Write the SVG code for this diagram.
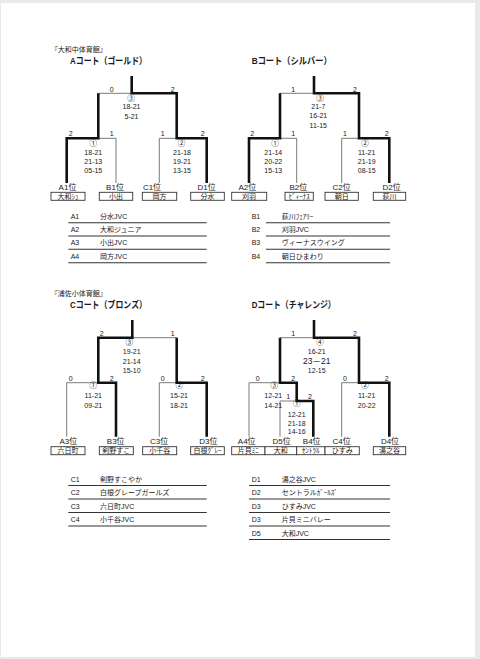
<svg xmlns="http://www.w3.org/2000/svg" width="480" height="659" viewBox="0 0 480 659">
<style>
.t{font-family:"Liberation Sans","Noto Sans CJK JP",sans-serif;fill:#1a1a1a}
.sc{font-size:7px;text-anchor:middle}
.cn{font-size:7.5px;text-anchor:middle}
.lab{font-size:8px;text-anchor:middle}
.bt{font-size:7px;text-anchor:middle}
.ttl{font-size:9.5px;font-weight:bold}
.hall{font-size:7px}
.tb{font-size:7px}
.thick{stroke:#111;stroke-width:2.6;fill:none;stroke-linejoin:miter}
.thin{stroke:#7a7a7a;stroke-width:1;fill:none}
.box{fill:#fff;stroke:#333;stroke-width:0.9}
.rl{stroke:#333;stroke-width:1.1}
</style>
<rect width="480" height="659" fill="#e9e9e9"/>
<rect x="1" y="3" width="474" height="654" fill="#fff"/>

<!-- headings -->
<g id="headings">
<text class="t hall" x="50.7" y="51.5">『大和中体育館』</text>
<text class="t ttl" x="70" y="63.5" textLength="77" lengthAdjust="spacingAndGlyphs">Aコート（ゴールド）</text>
<text class="t ttl" x="251.7" y="63.5" textLength="80" lengthAdjust="spacingAndGlyphs">Bコート（シルバー）</text>
<text class="t hall" x="50.7" y="296">『浦佐小体育館』</text>
<text class="t ttl" x="70" y="308" textLength="77" lengthAdjust="spacingAndGlyphs">Cコート（ブロンズ）</text>
<text class="t ttl" x="251.7" y="308" textLength="84" lengthAdjust="spacingAndGlyphs">Dコート（チャレンジ）</text>
</g>

<!-- connectors -->
<g id="connectors">
<!-- A court -->
<path class="thin" d="M116 183V138.3H98.3M159.3 183V138.3H176.7M98.3 93.3H131.7"/>
<path class="thick" d="M66.7 183V138.3H98.3V93.3"/>
<path class="thick" d="M206.7 183V138.3H176.7V93.3H131.7V76"/>
<!-- B court -->
<path class="thin" d="M296.7 183V138.3H280M341.7 183V138.3H359M280 93.3H314"/>
<path class="thick" d="M249 183V138.3H280V93.3"/>
<path class="thick" d="M389.3 183V138.3H359V93.3H314V76"/>
<!-- C court -->
<path class="thin" d="M66.7 436.7V382.7H98.3M159.3 436.7V382.7H176.7M132.3 337.7H176.7"/>
<path class="thick" d="M116 436.7V382.7H98.3V337.7H132.3V320"/>
<path class="thick" d="M206.7 436.7V382.7H176.7V337.7"/>
<!-- D court -->
<path class="thin" d="M280 337.7H314M249 436.7V382.7H280M280 436.7V401H296.7M341.7 436.7V382.7H359"/>
<path class="thick" d="M313.3 436.7V401H296.7V382.7H280V337.7"/>
<path class="thick" d="M389.3 436.7V382.7H359V337.7H314V320"/>
</g>

<!-- A court matches -->
<g id="A-final">
<text class="t sc" x="111.7" y="92">0</text><text class="t sc" x="172.7" y="92">2</text>
<text class="t cn" x="131" y="101">③</text>
<text class="t sc" x="131.5" y="109.2">18-21</text><text class="t sc" x="131.5" y="118.5">5-21</text>
</g>
<g id="A-m1">
<text class="t sc" x="70.7" y="136">2</text><text class="t sc" x="111.7" y="136">1</text>
<text class="t cn" x="93.3" y="146">①</text>
<text class="t sc" x="93.3" y="154.8">18-21</text><text class="t sc" x="93.3" y="163.5">21-13</text><text class="t sc" x="93.3" y="172.5">05-15</text>
</g>
<g id="A-m2">
<text class="t sc" x="162.7" y="136">1</text><text class="t sc" x="202.7" y="136">2</text>
<text class="t cn" x="181.5" y="146">②</text>
<text class="t sc" x="182" y="154.8">21-18</text><text class="t sc" x="182" y="163.5">19-21</text><text class="t sc" x="182" y="172.5">13-15</text>
</g>

<!-- B court matches -->
<g id="B-final">
<text class="t sc" x="293.3" y="92">1</text><text class="t sc" x="355" y="92">2</text>
<text class="t cn" x="320" y="101">③</text>
<text class="t sc" x="318.3" y="109.2">21-7</text><text class="t sc" x="318.3" y="118.2">16-21</text><text class="t sc" x="318.3" y="127.5">11-15</text>
</g>
<g id="B-m1">
<text class="t sc" x="252.3" y="136">2</text><text class="t sc" x="293.3" y="136">1</text>
<text class="t cn" x="275" y="146">①</text>
<text class="t sc" x="273.3" y="154.8">21-14</text><text class="t sc" x="273.3" y="163.5">20-22</text><text class="t sc" x="273.3" y="172.5">15-13</text>
</g>
<g id="B-m2">
<text class="t sc" x="345" y="136">1</text><text class="t sc" x="386.7" y="136">2</text>
<text class="t cn" x="365" y="146">②</text>
<text class="t sc" x="366.7" y="154.8">11-21</text><text class="t sc" x="366.7" y="163.5">21-19</text><text class="t sc" x="366.7" y="172.5">08-15</text>
</g>

<!-- C court matches -->
<g id="C-final">
<text class="t sc" x="101.7" y="335.5">2</text><text class="t sc" x="172.7" y="335.5">1</text>
<text class="t cn" x="129.3" y="345">③</text>
<text class="t sc" x="131.7" y="354.2">19-21</text><text class="t sc" x="131.7" y="363.5">21-14</text><text class="t sc" x="131.7" y="372.5">15-10</text>
</g>
<g id="C-m1">
<text class="t sc" x="70.7" y="381">0</text><text class="t sc" x="111.7" y="381">2</text>
<text class="t cn" x="93.3" y="388">①</text>
<text class="t sc" x="93.3" y="397.5">11-21</text><text class="t sc" x="93.3" y="407.5">09-21</text>
</g>
<g id="C-m2">
<text class="t sc" x="162.7" y="381">0</text><text class="t sc" x="202.7" y="381">2</text>
<text class="t cn" x="179.3" y="388">②</text>
<text class="t sc" x="179" y="397.5">15-21</text><text class="t sc" x="179" y="407.5">18-21</text>
</g>

<!-- D court matches -->
<g id="D-final">
<text class="t sc" x="293.3" y="335.5">1</text><text class="t sc" x="355" y="335.5">2</text>
<text class="t cn" x="320" y="345">④</text>
<text class="t sc" x="316.7" y="354.2">16-21</text>
<text class="t" x="316.7" y="364" text-anchor="middle" font-size="8.5">23－21</text>
<text class="t sc" x="316.7" y="372.5">12-15</text>
</g>
<g id="D-m3">
<text class="t sc" x="257.7" y="381">0</text><text class="t sc" x="293.3" y="381">2</text>
<text class="t cn" x="274.3" y="388">③</text>
<text class="t sc" x="273.3" y="397.5">12-21</text><text class="t sc" x="273.3" y="407.5">14-21</text>
</g>
<g id="D-m1">
<text class="t sc" x="288.3" y="399.3">1</text><text class="t sc" x="310" y="399.3">2</text>
<text class="t cn" x="296.7" y="405.5">①</text>
<text class="t sc" x="296.7" y="416.8">12-21</text><text class="t sc" x="296.7" y="425.8">21-18</text><text class="t sc" x="296.7" y="434.4">14-16</text>
</g>
<g id="D-m2">
<text class="t sc" x="345" y="381">0</text><text class="t sc" x="386.7" y="381">2</text>
<text class="t cn" x="365" y="388">②</text>
<text class="t sc" x="366.7" y="397.5">11-21</text><text class="t sc" x="366.7" y="407.5">20-22</text>
</g>

<!-- team nodes, top row -->
<g id="team-A1"><text class="t lab" x="67.5" y="190">A1位</text><rect class="box" x="51" y="192.3" width="34" height="8"/><text class="t bt" x="68" y="199">大和ｼｭ</text></g>
<g id="team-B1"><text class="t lab" x="115" y="190">B1位</text><rect class="box" x="99.3" y="192.3" width="33.4" height="8"/><text class="t bt" x="116" y="199">小出</text></g>
<g id="team-C1"><text class="t lab" x="152" y="190">C1位</text><rect class="box" x="142.3" y="192.3" width="34.4" height="8"/><text class="t bt" x="159.5" y="199">岡方</text></g>
<g id="team-D1"><text class="t lab" x="206.7" y="190">D1位</text><rect class="box" x="190.7" y="192.3" width="33.6" height="8"/><text class="t bt" x="207.5" y="199">分水</text></g>
<g id="team-A2"><text class="t lab" x="247.3" y="190">A2位</text><rect class="box" x="231.7" y="192.3" width="35" height="8"/><text class="t bt" x="249" y="199">刈羽</text></g>
<g id="team-B2"><text class="t lab" x="298.3" y="190">B2位</text><rect class="box" x="285" y="192.3" width="28.3" height="8"/><text class="t bt" x="299.2" y="199">ﾋﾞｨｰﾅｽ</text></g>
<g id="team-C2"><text class="t lab" x="341.7" y="190">C2位</text><rect class="box" x="325" y="192.3" width="33.3" height="8"/><text class="t bt" x="341.7" y="199">朝日</text></g>
<g id="team-D2"><text class="t lab" x="391.7" y="190">D2位</text><rect class="box" x="373.3" y="192.3" width="32.4" height="8"/><text class="t bt" x="389.5" y="199">荻川</text></g>

<!-- team nodes, bottom row -->
<g id="team-A3"><text class="t lab" x="68.3" y="444">A3位</text><rect class="box" x="51" y="446.7" width="34" height="8"/><text class="t bt" x="68" y="453.4">六日町</text></g>
<g id="team-B3"><text class="t lab" x="115.7" y="444">B3位</text><rect class="box" x="99.3" y="446.7" width="34" height="8"/><text class="t bt" x="116.3" y="453.4">剣野すこ</text></g>
<g id="team-C3"><text class="t lab" x="159.2" y="444">C3位</text><rect class="box" x="142.7" y="446.7" width="34" height="8"/><text class="t bt" x="159.7" y="453.4">小千谷</text></g>
<g id="team-D3"><text class="t lab" x="208.3" y="444">D3位</text><rect class="box" x="190.7" y="446.7" width="33.6" height="8"/><text class="t bt" x="207.5" y="453.4">白根ｸﾞﾚｰ</text></g>
<g id="team-A4"><text class="t lab" x="246.7" y="444">A4位</text><rect class="box" x="231.7" y="446.7" width="33.3" height="8"/><text class="t bt" x="248.3" y="453.4">片貝ﾐﾆ</text></g>
<g id="team-D5"><text class="t lab" x="281.7" y="444">D5位</text><rect class="box" x="265" y="446.7" width="31.7" height="8"/><text class="t bt" x="280.8" y="453.4">大和</text></g>
<g id="team-B4"><text class="t lab" x="311.7" y="444">B4位</text><rect class="box" x="296.7" y="446.7" width="28.3" height="8"/><text class="t bt" x="310.8" y="453.4">ｾﾝﾄﾗﾙ</text></g>
<g id="team-C4"><text class="t lab" x="341.7" y="444">C4位</text><rect class="box" x="325" y="446.7" width="34.3" height="8"/><text class="t bt" x="342.2" y="453.4">ひすみ</text></g>
<g id="team-D4"><text class="t lab" x="390" y="444">D4位</text><rect class="box" x="373.3" y="446.7" width="32.4" height="8"/><text class="t bt" x="389.5" y="453.4">湯之谷</text></g>

<!-- tables -->
<g id="table-A">
<text class="t tb" x="70.7" y="218.5">A1</text><text class="t tb" x="100" y="218.5">分水JVC</text>
<text class="t tb" x="70.7" y="231.8">A2</text><text class="t tb" x="100" y="231.8">大和ジュニア</text>
<text class="t tb" x="70.7" y="245.2">A3</text><text class="t tb" x="100" y="245.2">小出JVC</text>
<text class="t tb" x="70.7" y="258.5">A4</text><text class="t tb" x="100" y="258.5">岡方JVC</text>
<path class="rl" d="M68.3 222.7H206.7M68.3 236H206.7M68.3 249.3H206.7M68.3 262.7H206.7"/>
</g>
<g id="table-B">
<text class="t tb" x="251.7" y="218.5">B1</text><text class="t tb" x="281.7" y="218.5">荻川ﾌｪｱﾘｰ</text>
<text class="t tb" x="251.7" y="231.8">B2</text><text class="t tb" x="281.7" y="231.8">刈羽JVC</text>
<text class="t tb" x="251.7" y="245.2">B3</text><text class="t tb" x="281.7" y="245.2">ヴィーナスウイング</text>
<text class="t tb" x="251.7" y="258.5">B4</text><text class="t tb" x="281.7" y="258.5">朝日ひまわり</text>
<path class="rl" d="M266 222.7H390M266 236H390M266 249.3H390M266 262.7H390"/>
</g>
<g id="table-C">
<text class="t tb" x="70.7" y="481.8">C1</text><text class="t tb" x="100" y="481.8">剣野すこやか</text>
<text class="t tb" x="70.7" y="495.3">C2</text><text class="t tb" x="100" y="495.3">白根グレープガールズ</text>
<text class="t tb" x="70.7" y="508.8">C3</text><text class="t tb" x="100" y="508.8">六日町JVC</text>
<text class="t tb" x="70.7" y="522.3">C4</text><text class="t tb" x="100" y="522.3">小千谷JVC</text>
<path class="rl" d="M68.3 485.5H206.7M68.3 499H206.7M68.3 512.5H206.7M68.3 526H206.7"/>
</g>
<g id="table-D">
<text class="t tb" x="251.7" y="481.8">D1</text><text class="t tb" x="281.7" y="481.8">湯之谷JVC</text>
<text class="t tb" x="251.7" y="495.3">D2</text><text class="t tb" x="281.7" y="495.3">セントラルｶﾞｰﾙｽﾞ</text>
<text class="t tb" x="251.7" y="508.8">D3</text><text class="t tb" x="281.7" y="508.8">ひすみJVC</text>
<text class="t tb" x="251.7" y="522.3">D3</text><text class="t tb" x="281.7" y="522.3">片貝ミニバレー</text>
<text class="t tb" x="251.7" y="535.8">D5</text><text class="t tb" x="281.7" y="535.8">大和JVC</text>
<path class="rl" d="M249 485.5H390M249 499H390M249 512.5H390M249 526H390M249 539.5H390"/>
</g>
</svg>
